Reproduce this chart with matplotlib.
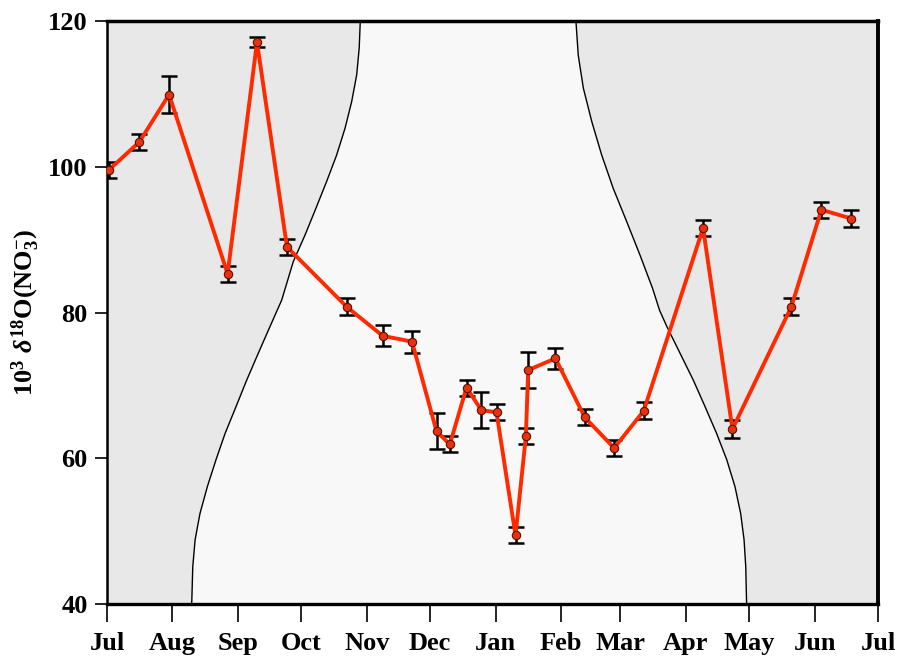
import numpy as np
import matplotlib
matplotlib.use('Agg')
import matplotlib.pyplot as plt

plt.rcParams['font.family'] = ['Liberation Serif', 'DejaVu Serif']
plt.rcParams['font.weight'] = 'bold'
plt.rcParams['mathtext.fontset'] = 'custom'
plt.rcParams['mathtext.rm'] = 'Liberation Serif:bold'
plt.rcParams['mathtext.it'] = 'Liberation Serif:italic:bold'
plt.rcParams['mathtext.bf'] = 'Liberation Serif:bold'

# days counted from 1 July
month_days = [0, 31, 62, 92, 123, 153, 184, 215, 243, 274, 304, 335, 365]
month_labels = ['Jul', 'Aug', 'Sep', 'Oct', 'Nov', 'Dec', 'Jan', 'Feb', 'Mar',
                'Apr', 'May', 'Jun', 'Jul']

sample_day = [1, 15.3, 29.4, 57.1, 71, 85.2, 113.4, 130.5, 144.4, 156, 162.3,
              170.2, 177.2, 184.4, 193.4, 198.3, 199.4, 212.3, 226.2, 240.1,
              254.1, 282.2, 296.1, 324, 338.2, 352.3]
d18o = [99.6, 103.4, 109.9, 85.3, 117.1, 89.0, 80.8, 76.8, 76.0, 63.7, 61.9,
        69.7, 66.6, 66.3, 49.4, 63.0, 72.1, 73.7, 65.6, 61.4, 66.5, 91.6, 64.0,
        80.8, 94.1, 92.9]
d18o_err = [1.1, 1.1, 2.5, 1.1, 0.7, 1.1, 1.2, 1.45, 1.5, 2.5, 1.1, 1.1, 2.5,
            1.1, 1.1, 1.1, 2.5, 1.45, 1.1, 1.15, 1.15, 1.1, 1.2, 1.15, 1.1, 1.1]

# boundary curves of the light region
left_day = [40.1, 40.6, 41.7, 44.0, 47.5, 51.6, 55.9, 61.1, 66.1, 71.6, 77.2,
            82.7, 88.2, 93.7, 98.9, 104.0, 108.7, 112.7, 115.8, 118.2, 119.4,
            119.9]
left_val = [40, 45.1, 48.8, 52.4, 56.1, 59.8, 63.4, 67.1, 70.7, 74.4, 78.1,
            81.7, 87.0, 90.6, 94.3, 98.0, 101.6, 105.3, 108.9, 112.6, 116.3, 120]
right_day = [222.0, 223.1, 225.5, 229.5, 234.2, 239.7, 246.0, 252.3, 258.3,
             261.6, 265.0, 271.3, 277.6, 283.1, 288.6, 293.4, 297.3, 300.0,
             301.6, 302.4, 302.8]
right_val = [120, 115.3, 110.8, 106.2, 101.6, 97.0, 92.5, 87.9, 83.3, 80.3,
             78.1, 74.4, 70.7, 67.1, 63.4, 59.8, 56.1, 52.4, 48.8, 45.1, 40]

fig = plt.figure(figsize=(8.97, 6.57), dpi=100)
ax = fig.add_axes([0.1193, 0.0807, 0.8595, 0.8873])
ax.set_facecolor('#e8e8e8')

# light region between the two curves
poly_x = left_day + right_day
poly_y = left_val + right_val
ax.fill(poly_x, poly_y, color='#f8f8f8', zorder=0.5, lw=0)
ax.plot(left_day, left_val, color='black', lw=1.0, zorder=1)
ax.plot(right_day, right_val, color='black', lw=1.0, zorder=1)

ax.errorbar(sample_day, d18o, yerr=d18o_err, fmt='none', ecolor='black',
            elinewidth=1.8, capsize=6, capthick=1.8, zorder=2)
ax.plot(sample_day, d18o, color='#ff2a00', lw=2.8, zorder=3)
ax.plot(sample_day, d18o, 'o', ms=6, mfc='#e8320f', mec='#5a1000', mew=0.8,
        zorder=4)

ax.set_xlim(0, 365)
ax.set_ylim(40, 120)
ax.set_xticks(month_days)
ax.set_xticklabels(month_labels)
ax.set_yticks([40, 60, 80, 100, 120])
ax.tick_params(axis='x', direction='out', length=13, width=1.2, labelsize=19,
               pad=7, top=False)
ax.tick_params(axis='y', direction='out', length=9, width=1.2, labelsize=19,
               pad=5, right=False)
for lab in ax.get_xticklabels() + ax.get_yticklabels():
    lab.set_fontweight('bold')

ax.spines['left'].set_linewidth(1.8)
ax.spines['bottom'].set_linewidth(2.4)
ax.spines['top'].set_linewidth(2.5)
ax.spines['right'].set_linewidth(2.8)

ax.set_ylabel(r'$10^{3}\ \delta^{18}$O(NO$_{3}^{-}$)', fontsize=19,
              fontweight='bold', labelpad=4)

plt.savefig('out.png', dpi=100)
